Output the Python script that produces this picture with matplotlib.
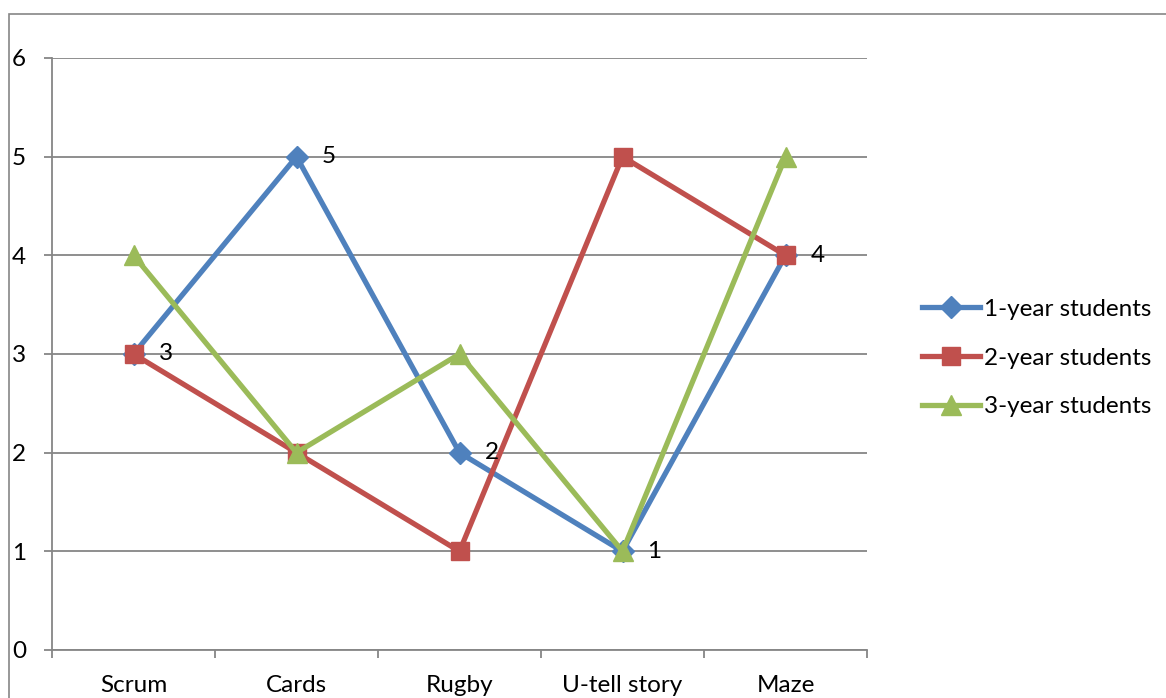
import matplotlib
matplotlib.use("Agg")
import matplotlib.pyplot as plt
from matplotlib.patches import Rectangle

categories = ["Scrum", "Cards", "Rugby", "U-tell story", "Maze"]
year1 = [3, 5, 2, 1, 4]
year2 = [3, 2, 1, 5, 4]
year3 = [4, 2, 3, 1, 5]
series_names = ["1-year students", "2-year students", "3-year students"]
y_ticks = [0, 1, 2, 3, 4, 5, 6]

plt.rcParams["font.family"] = ["Lato", "DejaVu Sans"]
FS = 17.5
GRID = "#868686"

fig = plt.figure(figsize=(11.66, 6.98), dpi=100)
ax = fig.add_axes([52 / 1166, 1 - 650 / 698, (867 - 52) / 1166, (650 - 58) / 698])

# outer chart border
fig.patches.append(Rectangle((9 / 1166, -0.1), 1.2, 1 - 14 / 698 + 0.1,
                             transform=fig.transFigure, fill=False,
                             edgecolor=GRID, linewidth=1.2, clip_on=False))

x = list(range(len(categories)))
styles = [
    (year1, "#4F81BD", "D", 11),
    (year2, "#C0504D", "s", 13),
    (year3, "#9BBB59", "^", 14),
]
for (vals, col, mk, ms), name in zip(styles, series_names):
    ax.plot(x, vals, color=col, linewidth=3.8, marker=mk, markersize=ms,
            markerfacecolor=col, markeredgecolor=col, label=name,
            solid_joinstyle="round", clip_on=False)

# value labels for the first series
for xi, v in zip(x, year1):
    ax.annotate(str(v), (xi, v), xytext=(18, 0), textcoords="offset points",
                ha="left", va="center", fontsize=FS, color="black")

ax.set_xlim(-0.5, len(categories) - 0.5)
ax.set_ylim(0, 6)
ax.set_yticks(y_ticks)
ax.set_yticklabels([str(t) for t in y_ticks], fontsize=FS)
ax.yaxis.grid(True, color=GRID, linewidth=1.3)
ax.set_axisbelow(True)

ax.set_xticks([i - 0.5 for i in range(len(categories) + 1)])
ax.set_xticklabels([])
ax.set_xticks(x, minor=True)
ax.set_xticklabels(categories, minor=True, fontsize=FS)
ax.tick_params(axis="x", which="minor", length=0, pad=18)
ax.tick_params(axis="x", which="major", length=5.8, color=GRID, width=1.3, direction="out")
ax.tick_params(axis="y", length=5.8, color=GRID, width=1.3, pad=13, direction="out")

for s in ["top", "right"]:
    ax.spines[s].set_visible(False)
for s in ["left", "bottom"]:
    ax.spines[s].set_color(GRID)
    ax.spines[s].set_linewidth(1.3)

leg = fig.legend(loc="center left", bbox_to_anchor=(922 / 1166, 1 - 358 / 698),
                 frameon=False, fontsize=FS, handlelength=2.4, handletextpad=0.15,
                 labelspacing=1.15, borderaxespad=0, borderpad=0)

fig.savefig("out.png", dpi=100)
